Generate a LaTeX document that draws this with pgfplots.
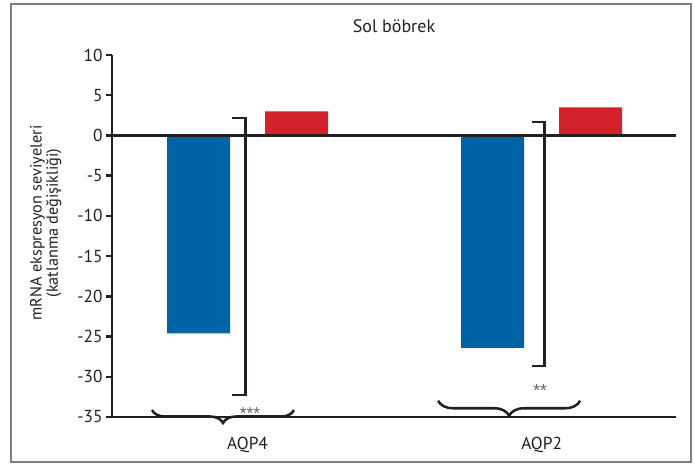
\documentclass[border=0pt]{standalone}
\usepackage{pgfplots}
\pgfplotsset{compat=1.18}
\usetikzlibrary{decorations.pathreplacing}
\usepackage{fontspec}
\setmainfont{PT Sans}
\newfontfamily\starfont{Liberation Sans}
\definecolor{barblue}{HTML}{0063A6}
\definecolor{barred}{HTML}{D2232A}
\definecolor{ink}{HTML}{231F20}
\begin{document}
\begin{tikzpicture}
\path (0,0) rectangle (520.5pt,348.75pt);
\draw[gray, line width=1.2pt] (8.25pt,2.25pt) rectangle (518.25pt,345.75pt);
\node[font=\fontsize{13.5}{15}\selectfont, text=ink] at (295.5pt,329.25pt) {Sol böbrek};
\node[rotate=90, align=center, font=\fontsize{12.2}{12.2}\selectfont, text=ink] at (34.4pt,181.5pt) {mRNA ekspresyon seviyeleri\\(katlanma değişikliği)};
\begin{axis}[
  at={(84pt,36pt)}, anchor=south west,
  scale only axis, width=423pt, height=271.5pt,
  xmin=-0.461, xmax=1.457, ymin=-35, ymax=10,
  axis lines*=left,
  axis line style={ink, line width=1.8pt},
  ytick={-35,-30,...,10},
  xtick={0,1}, xticklabels={AQP4,AQP2},
  x tick style={draw=none},
  y tick style={ink, line width=1.8pt},
  tick align=outside,
  major tick length=4.5pt,
  /pgf/number format/assume math mode=true,
  ticklabel style={font=\fontsize{13}{15}\selectfont, text=ink},
  yticklabel style={xshift=1pt},
  xticklabel style={yshift=-7pt},
  ybar, bar width=0.214,
  clip=false,
]
\addplot[fill=barblue, draw=none, bar shift=-0.1667] coordinates {(0,-24.6) (1,-26.4)};
\addplot[fill=barred, draw=none, bar shift=0.1667] coordinates {(0,3.0) (1,3.5)};
\draw[ink, line width=1.8pt] (axis cs:-0.461,0) -- (axis cs:1.457,0);
\draw[ink, line width=1.8pt] (axis cs:-0.0527,2.17) -- (axis cs:-0.0068,2.17) -- (axis cs:-0.0068,-32.27) -- (axis cs:-0.0527,-32.27);
\draw[ink, line width=1.8pt] (axis cs:0.9677,1.67) -- (axis cs:1.0095,1.67) -- (axis cs:1.0095,-28.66) -- (axis cs:0.9677,-28.66);
\draw[ink, line width=1.9pt, decorate, decoration={brace, mirror, amplitude=9.75pt}] (axis cs:-0.325,-34.13) -- (axis cs:0.158,-34.13);
\draw[ink, line width=1.9pt, decorate, decoration={brace, mirror, amplitude=11.25pt}] (axis cs:0.648,-32.98) -- (axis cs:1.131,-32.98);
\node[anchor=base, inner sep=0pt, font=\starfont\fontsize{13}{14}\selectfont, text=ink!70] at (axis cs:0.0085,-35.37) {***};
\node[anchor=base, inner sep=0pt, font=\starfont\fontsize{13}{14}\selectfont, text=ink!70] at (axis cs:0.995,-32.39) {**};
\end{axis}
\end{tikzpicture}
\end{document}
